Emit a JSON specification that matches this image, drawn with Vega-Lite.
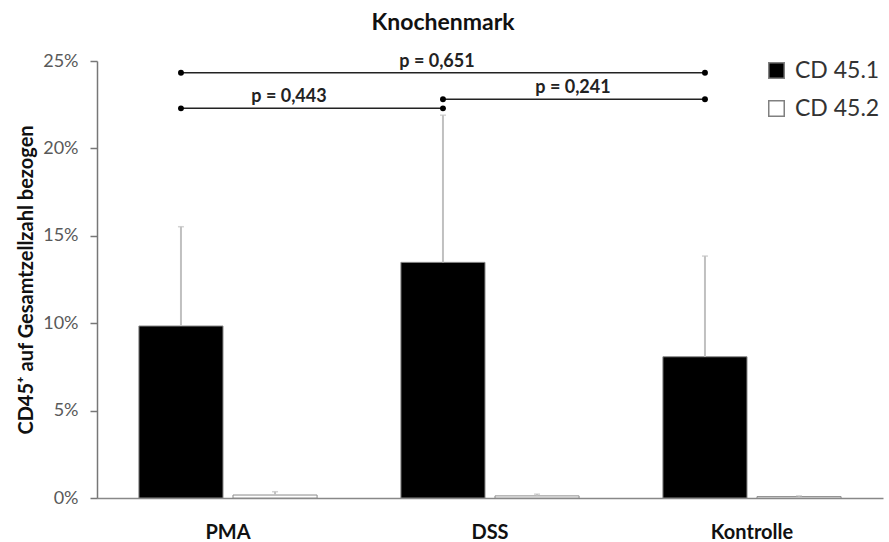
{
  "$schema": "https://vega.github.io/schema/vega-lite/v6.json",
  "autosize": {"type": "none"},
  "width": 786,
  "height": 437,
  "padding": {"left": 97, "top": 61, "right": 6, "bottom": 44},
  "background": "white",
  "config": {"view": {"stroke": null}, "font": "Lato"},
  "title": {"text": "Knochenmark", "fontSize": 23, "fontWeight": "bold", "font": "Lato", "color": "#111111", "dx": -47, "offset": 17},
  "datasets": {
    "bars": [
      {"group": "PMA", "series": "CD 45.1", "value": 9.84, "upper": 15.52},
      {"group": "PMA", "series": "CD 45.2", "value": 0.17, "upper": 0.36},
      {"group": "DSS", "series": "CD 45.1", "value": 13.48, "upper": 21.9},
      {"group": "DSS", "series": "CD 45.2", "value": 0.12, "upper": 0.22},
      {"group": "Kontrolle", "series": "CD 45.1", "value": 8.08, "upper": 13.84},
      {"group": "Kontrolle", "series": "CD 45.2", "value": 0.08, "upper": 0.12}
    ],
    "brackets": [
      {"bracket": "A", "group": "PMA", "series": "CD 45.1", "y": 24.33},
      {"bracket": "A", "group": "Kontrolle", "series": "CD 45.1", "y": 24.33},
      {"bracket": "B", "group": "PMA", "series": "CD 45.1", "y": 22.29},
      {"bracket": "B", "group": "DSS", "series": "CD 45.1", "y": 22.29},
      {"bracket": "C", "group": "DSS", "series": "CD 45.1", "y": 22.81},
      {"bracket": "C", "group": "Kontrolle", "series": "CD 45.1", "y": 22.81}
    ],
    "labels": [
      {"bracket": "A", "label": "p = 0,651", "group": "DSS", "series": "CD 45.1", "y": 24.33},
      {"bracket": "B", "label": "p = 0,443", "group": "PMA", "series": "CD 45.1", "y": 22.29},
      {"bracket": "C", "label": "p = 0,241", "group": "DSS", "series": "CD 45.1", "y": 22.81}
    ]
  },
  "encoding": {
    "x": {
      "field": "group", "type": "nominal", "sort": ["PMA", "DSS", "Kontrolle"],
      "scale": {"domain": ["PMA", "DSS", "Kontrolle"], "paddingInner": 0.32, "paddingOuter": 0.16},
      "axis": {"title": null, "labelAngle": 0, "ticks": false, "domainColor": "#888888", "domainWidth": 1.5, "labelFontSize": 20, "labelFontWeight": "bold", "labelColor": "#111111", "labelPadding": 24}
    },
    "xOffset": {"field": "series", "type": "nominal", "scale": {"domain": ["CD 45.1", "CD 45.2"], "paddingInner": 0.106, "paddingOuter": 0}},
    "y": {
      "type": "quantitative",
      "scale": {"domain": [0, 25], "nice": false},
      "axis": {"title": "CD45⁺ auf Gesamtzellzahl bezogen", "values": [0, 5, 10, 15, 20, 25], "labelExpr": "datum.value + '%'", "grid": false, "domainColor": "#777777", "domainWidth": 1.5, "tickColor": "#777777", "tickSize": 7, "tickWidth": 1.5, "labelFontSize": 18, "labelColor": "#595959", "labelPadding": 12, "titleFontSize": 20, "titleFontWeight": "bold", "titleColor": "#111111", "titlePadding": 6}
    }
  },
  "layer": [
    {
      "data": {"name": "bars"},
      "mark": {"type": "bar", "stroke": "#8a8a8a", "strokeWidth": 1},
      "encoding": {
        "y": {"field": "value", "type": "quantitative"},
        "fill": {"field": "series", "type": "nominal", "scale": {"domain": ["CD 45.1", "CD 45.2"], "range": ["#000000", "#ffffff"]},
          "legend": {"title": null, "orient": "none", "legendX": 668, "legendY": -2, "symbolType": "square", "symbolSize": 240, "symbolStrokeColor": "#808080", "symbolStrokeWidth": 1.5, "labelFontSize": 23, "labelColor": "#333333", "rowPadding": 14, "labelOffset": 7}}
      }
    },
    {
      "data": {"name": "bars"},
      "mark": {"type": "rule", "color": "#c0c0c0", "strokeWidth": 2},
      "encoding": {"y": {"field": "value", "type": "quantitative"}, "y2": {"field": "upper"}}
    },
    {
      "data": {"name": "bars"},
      "mark": {"type": "tick", "color": "#c0c0c0", "size": 6, "thickness": 1.5, "orient": "horizontal"},
      "encoding": {"y": {"field": "upper", "type": "quantitative"}}
    },
    {
      "data": {"name": "brackets"},
      "mark": {"type": "line", "color": "#222222", "strokeWidth": 1.5},
      "encoding": {"y": {"field": "y", "type": "quantitative"}, "detail": {"field": "bracket"}}
    },
    {
      "data": {"name": "brackets"},
      "mark": {"type": "point", "filled": true, "color": "#000000", "size": 35, "opacity": 1},
      "encoding": {"y": {"field": "y", "type": "quantitative"}}
    },
    {
      "data": {"name": "labels"},
      "transform": [{"filter": "datum.bracket === 'A'"}],
      "mark": {"type": "text", "fontSize": 18, "fontWeight": "bold", "color": "#222222", "dx": -6, "dy": -6, "baseline": "alphabetic"},
      "encoding": {"y": {"field": "y", "type": "quantitative"}, "text": {"field": "label"}}
    },
    {
      "data": {"name": "labels"},
      "transform": [{"filter": "datum.bracket === 'B'"}],
      "mark": {"type": "text", "fontSize": 18, "fontWeight": "bold", "color": "#222222", "dx": 108, "dy": -6, "baseline": "alphabetic"},
      "encoding": {"y": {"field": "y", "type": "quantitative"}, "text": {"field": "label"}}
    },
    {
      "data": {"name": "labels"},
      "transform": [{"filter": "datum.bracket === 'C'"}],
      "mark": {"type": "text", "fontSize": 18, "fontWeight": "bold", "color": "#222222", "dx": 130, "dy": -6, "baseline": "alphabetic"},
      "encoding": {"y": {"field": "y", "type": "quantitative"}, "text": {"field": "label"}}
    }
  ]
}
